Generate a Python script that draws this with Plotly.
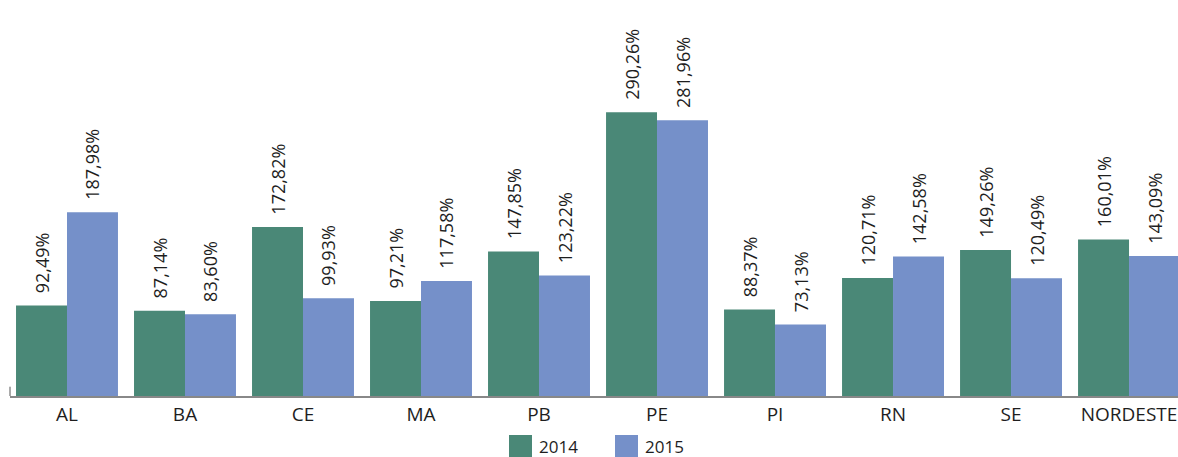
import plotly.graph_objects as go

# Dados
estados = ['AL', 'BA', 'CE', 'MA', 'PB', 'PE', 'PI', 'RN', 'SE', 'NORDESTE']
v2014 = [92.49, 87.14, 172.82, 97.21, 147.85, 290.26, 88.37, 120.71, 149.26, 160.01]
v2015 = [187.98, 83.60, 99.93, 117.58, 123.22, 281.96, 73.13, 142.58, 120.49, 143.09]
anos = ['2014', '2015']

cor_2014 = '#4a8877'
cor_2015 = '#7590c9'
cores = [cor_2014, cor_2015]
fonte = 'Open Sans'
esp = '\u00a0\u00a0'  # folga entre barra e rotulo

fig = go.Figure()
for nome, vals, cor in zip(anos, [v2014, v2015], cores):
    fig.add_trace(go.Bar(x=estados, y=vals, name=nome, marker_color=cor,
                         marker_line_width=0, showlegend=False,
                         texttemplate=esp + '%{y:.2f}%', textposition='outside', textangle=-90,
                         constraintext='none', cliponaxis=False,
                         outsidetextfont=dict(size=18, color='#1e1e1e')))

# pequeno traço no início do eixo
fig.add_shape(type='line', xref='paper', yref='y', x0=0, x1=0, y0=-10.5, y1=9.5,
              line=dict(color='#555', width=1))

# legenda desenhada (quadrados grandes como no original)
W, PH = 1168.0, 396.0
leg_x = [509, 615]
for i, (nome, cor) in enumerate(zip(anos, cores)):
    x0 = (leg_x[i] - 10) / W
    fig.add_shape(type='rect', xref='paper', yref='paper',
                  x0=x0, x1=x0 + 23 / W, y0=-39 / PH, y1=-62 / PH,
                  fillcolor=cor, line_width=0)
    fig.add_annotation(xref='paper', yref='paper', x=x0 + 28 / W, y=-50 / PH,
                       xanchor='left', yanchor='middle', text=nome, showarrow=False,
                       font=dict(size=17, color='#1e1e1e'))

fig.update_layout(
    width=1178, height=457,
    margin=dict(l=10, r=0, t=0, b=61),
    barmode='group', bargap=0.136, bargroupgap=0,
    separators=',.',
    plot_bgcolor='white', paper_bgcolor='white',
    font=dict(family=fonte, size=17, color='#1e1e1e'),
)
fig.update_xaxes(range=[-0.483, 9.415], showline=True, linecolor='#888', linewidth=2,
                 ticks='', tickfont=dict(size=19), showgrid=False)
fig.update_yaxes(range=[0, 405], visible=False, showgrid=False)
fig.write_html('out.html', config={'displayModeBar': False},
               post_script="document.body.style.margin='0';document.body.style.overflow='hidden';")
